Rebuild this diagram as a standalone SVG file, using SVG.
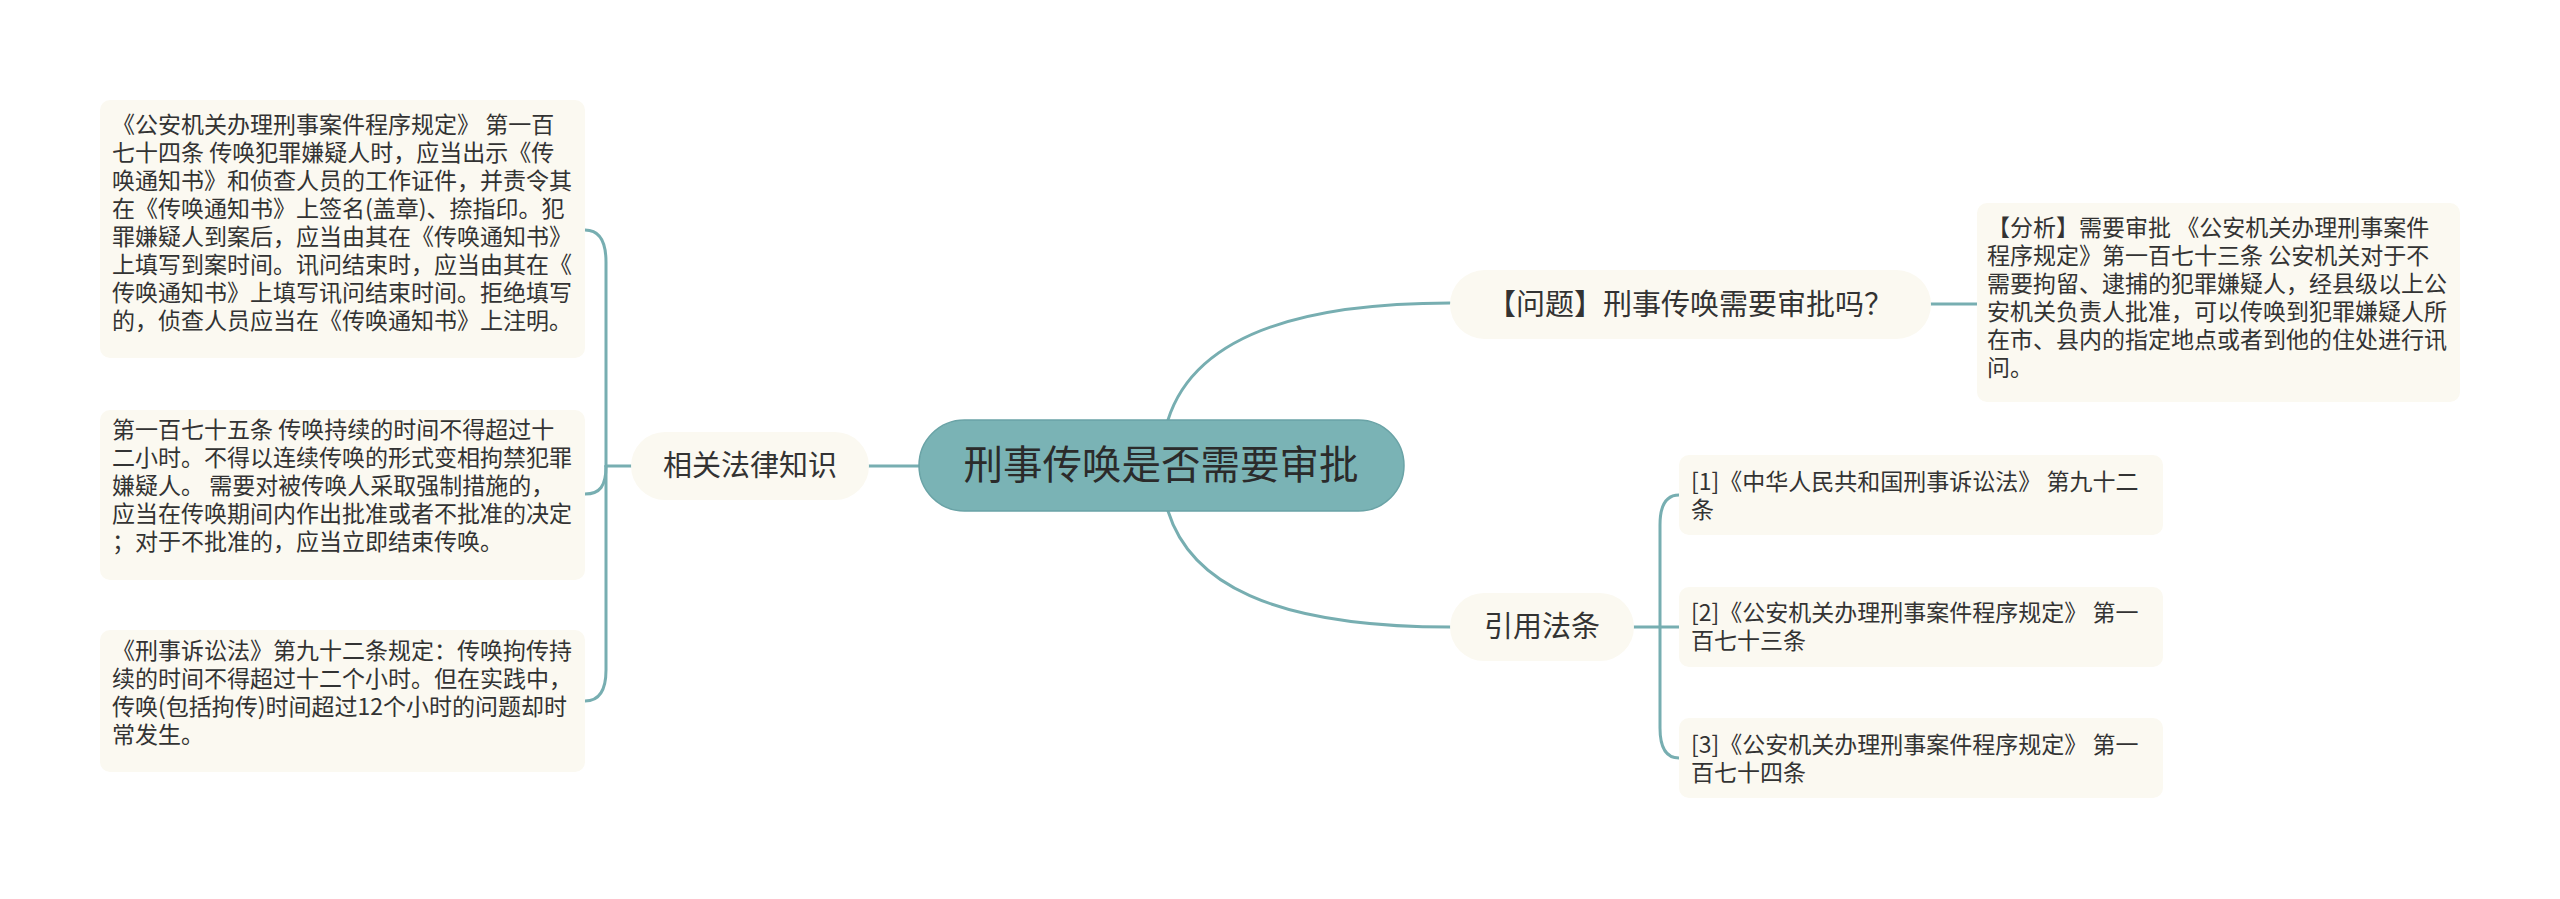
<svg xmlns="http://www.w3.org/2000/svg" width="2560" height="899" viewBox="0 0 2560 899">
<style>
.bg{fill:#ffffff}
.line{fill:none;stroke:#77aeb1;stroke-width:3;stroke-linecap:round}
.leaf{fill:#fbf9f1}
.pill{fill:#fbf9f1}
.center{fill:#7ab3b5;stroke:#6aa3a6;stroke-width:1.5}
text{font-family:"Noto Sans CJK SC","Noto Sans",sans-serif;fill:#333333}
.t23{font-size:23px}
.t29{font-size:29px;text-anchor:middle}
.t38{font-size:39.5px;text-anchor:middle;fill:#2b2b2b}
</style>
<rect class="bg" x="0" y="0" width="2560" height="899"/>
<g id="connectors">
  <path class="line" d="M 869 466 H 919"/>
  <path class="line" d="M 1168 420 C 1190 350, 1270 303, 1450 303"/>
  <path class="line" d="M 1168 511 C 1190 582, 1270 627, 1450 627"/>
  <path class="line" d="M 1931 304 H 1977"/>
  <path class="line" d="M 631 466 H 606"/>
  <path class="line" d="M 606 466 V 262 C 606 242, 600 230, 585 230"/>
  <path class="line" d="M 606 466 C 606 486, 600 494, 585 494"/>
  <path class="line" d="M 606 466 V 670 C 606 690, 600 701, 585 701"/>
  <path class="line" d="M 1634 627 H 1679"/>
  <path class="line" d="M 1660 627 V 525 C 1660 505, 1666 495, 1679 495"/>
  <path class="line" d="M 1660 627 V 728 C 1660 748, 1666 758, 1679 758"/>
</g>
<g id="center">
  <rect class="center" x="919" y="420" width="485" height="91" rx="45.5"/>
  <text class="t38" x="1161" y="479">刑事传唤是否需要审批</text>
</g>
<g id="node-law">
  <rect class="pill" x="631" y="432" width="238" height="68" rx="34"/>
  <text class="t29" x="750" y="476">相关法律知识</text>
</g>
<g id="node-question">
  <rect class="pill" x="1450" y="270" width="481" height="69" rx="34.5"/>
  <text class="t29" x="1690" y="315">【问题】刑事传唤需要审批吗？</text>
</g>
<g id="node-cite">
  <rect class="pill" x="1450" y="593" width="184" height="68" rx="34"/>
  <text class="t29" x="1542" y="637">引用法条</text>
</g>
<g id="leaf-law-1">
  <rect class="leaf" x="100" y="100" width="485" height="258" rx="10"/>
  <text class="t23" x="112">
    <tspan x="112" y="133">《公安机关办理刑事案件程序规定》 第一百</tspan>
    <tspan x="112" y="161">七十四条 传唤犯罪嫌疑人时，应当出示《传</tspan>
    <tspan x="112" y="189">唤通知书》和侦查人员的工作证件，并责令其</tspan>
    <tspan x="112" y="217">在《传唤通知书》上签名(盖章)、捺指印。犯</tspan>
    <tspan x="112" y="245">罪嫌疑人到案后，应当由其在《传唤通知书》</tspan>
    <tspan x="112" y="273">上填写到案时间。讯问结束时，应当由其在《</tspan>
    <tspan x="112" y="301">传唤通知书》上填写讯问结束时间。拒绝填写</tspan>
    <tspan x="112" y="329">的，侦查人员应当在《传唤通知书》上注明。</tspan>
  </text>
</g>
<g id="leaf-law-2">
  <rect class="leaf" x="100" y="410" width="485" height="170" rx="10"/>
  <text class="t23" x="112">
    <tspan x="112" y="438">第一百七十五条 传唤持续的时间不得超过十</tspan>
    <tspan x="112" y="466">二小时。不得以连续传唤的形式变相拘禁犯罪</tspan>
    <tspan x="112" y="494">嫌疑人。 需要对被传唤人采取强制措施的，</tspan>
    <tspan x="112" y="522">应当在传唤期间内作出批准或者不批准的决定</tspan>
    <tspan x="112" y="550">；对于不批准的，应当立即结束传唤。</tspan>
  </text>
</g>
<g id="leaf-law-3">
  <rect class="leaf" x="100" y="630" width="485" height="142" rx="10"/>
  <text class="t23" x="112">
    <tspan x="112" y="659">《刑事诉讼法》第九十二条规定：传唤拘传持</tspan>
    <tspan x="112" y="687">续的时间不得超过十二个小时。但在实践中，</tspan>
    <tspan x="112" y="715">传唤(包括拘传)时间超过12个小时的问题却时</tspan>
    <tspan x="112" y="743">常发生。</tspan>
  </text>
</g>
<g id="leaf-analysis">
  <rect class="leaf" x="1977" y="203" width="483" height="199" rx="10"/>
  <text class="t23" x="1987">
    <tspan x="1987" y="236">【分析】需要审批 《公安机关办理刑事案件</tspan>
    <tspan x="1987" y="264">程序规定》第一百七十三条 公安机关对于不</tspan>
    <tspan x="1987" y="292">需要拘留、逮捕的犯罪嫌疑人，经县级以上公</tspan>
    <tspan x="1987" y="320">安机关负责人批准，可以传唤到犯罪嫌疑人所</tspan>
    <tspan x="1987" y="348">在市、县内的指定地点或者到他的住处进行讯</tspan>
    <tspan x="1987" y="376">问。</tspan>
  </text>
</g>
<g id="leaf-cite-1">
  <rect class="leaf" x="1679" y="455" width="484" height="80" rx="10"/>
  <text class="t23" x="1691">
    <tspan x="1691" y="490">[1]《中华人民共和国刑事诉讼法》 第九十二</tspan>
    <tspan x="1691" y="518">条</tspan>
  </text>
</g>
<g id="leaf-cite-2">
  <rect class="leaf" x="1679" y="587" width="484" height="80" rx="10"/>
  <text class="t23" x="1691">
    <tspan x="1691" y="621">[2]《公安机关办理刑事案件程序规定》 第一</tspan>
    <tspan x="1691" y="649">百七十三条</tspan>
  </text>
</g>
<g id="leaf-cite-3">
  <rect class="leaf" x="1679" y="718" width="484" height="80" rx="10"/>
  <text class="t23" x="1691">
    <tspan x="1691" y="753">[3]《公安机关办理刑事案件程序规定》 第一</tspan>
    <tspan x="1691" y="781">百七十四条</tspan>
  </text>
</g>
</svg>
